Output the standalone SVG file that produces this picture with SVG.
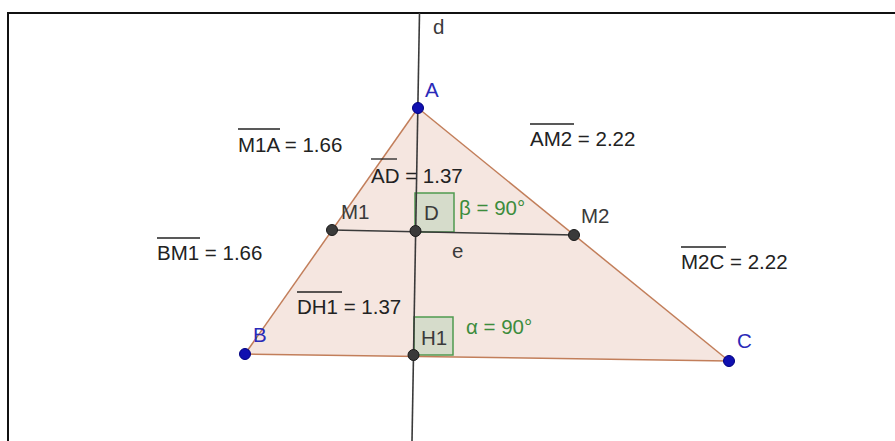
<svg xmlns="http://www.w3.org/2000/svg" width="895" height="441" viewBox="0 0 895 441">
<style>
text{font-family:"Liberation Sans",Arial,sans-serif;font-size:20.5px}
.val{fill:#222}
.pl{fill:#2a2ab8}
.gl{fill:#3a3a3a}
.ang{fill:#3c8c3c}
.ov{stroke:#222;stroke-width:1.3}
.edge{stroke:#c27e5a;stroke-width:1.5;fill:none}
.ln{stroke:#3a3a3a;stroke-width:1.6;fill:none}
.blue{fill:#1010b0;stroke:#000080;stroke-width:1}
.dark{fill:#3a3a3a;stroke:#1a1a1a;stroke-width:1}
.sq{fill:#d6dccb;stroke:#4f9a4f;stroke-width:1.5}
</style>
<rect width="895" height="441" fill="#fff"/>
<path d="M8 441V13H895" fill="none" stroke="#111" stroke-width="2"/>
<polygon points="418,108 245,354 729,361" fill="#f5e6e0" stroke="none"/>
<g id="angles">
<rect class="sq" x="415" y="193" width="39" height="39"/>
<rect class="sq" x="414" y="317" width="39" height="38"/>
</g>
<g id="connectors">
<line class="edge" x1="418" y1="108" x2="245" y2="354"/>
<line class="edge" x1="418" y1="108" x2="729" y2="361"/>
<line class="edge" x1="245" y1="354" x2="729" y2="361"/>
<line class="ln" x1="419.5" y1="13" x2="412" y2="441"/>
<line class="ln" x1="332" y1="230" x2="574" y2="235"/>
</g>
<g id="A"><circle class="blue" cx="418" cy="108" r="5.5"/><text class="pl" x="425" y="97">A</text></g>
<g id="B"><circle class="blue" cx="245" cy="354" r="5.5"/><text class="pl" x="253" y="342">B</text></g>
<g id="C"><circle class="blue" cx="729" cy="361" r="5.5"/><text class="pl" x="737" y="348">C</text></g>
<g id="M1"><circle class="dark" cx="332" cy="230" r="5.5"/><text class="gl" x="341" y="219">M1</text></g>
<g id="M2"><circle class="dark" cx="574" cy="235" r="5.5"/><text class="gl" x="581" y="223">M2</text></g>
<g id="D"><circle class="dark" cx="415.5" cy="231" r="5.5"/><text class="gl" x="424" y="220">D</text></g>
<g id="H1"><circle class="dark" cx="413.5" cy="355" r="5.5"/><text class="gl" x="421" y="345">H1</text></g>
<g id="labels">
<text class="gl" x="433" y="34">d</text>
<text class="gl" x="452" y="258">e</text>
<text class="ang" x="459" y="215">β = 90°</text>
<text class="ang" x="466" y="334">α = 90°</text>
<text class="val" x="238" y="152">M1A = 1.66</text><line class="ov" x1="238" y1="129" x2="280" y2="129"/>
<text class="val" x="371" y="183">AD = 1.37</text><line class="ov" x1="371" y1="159" x2="397" y2="159"/>
<text class="val" x="530" y="146">AM2 = 2.22</text><line class="ov" x1="530" y1="124" x2="574" y2="124"/>
<text class="val" x="157" y="260">BM1 = 1.66</text><line class="ov" x1="157" y1="238" x2="200" y2="238"/>
<text class="val" x="681" y="269">M2C = 2.22</text><line class="ov" x1="681" y1="247" x2="726" y2="247"/>
<text class="val" x="297" y="314">DH1 = 1.37</text><line class="ov" x1="297" y1="292" x2="342" y2="292"/>
</g>
</svg>
